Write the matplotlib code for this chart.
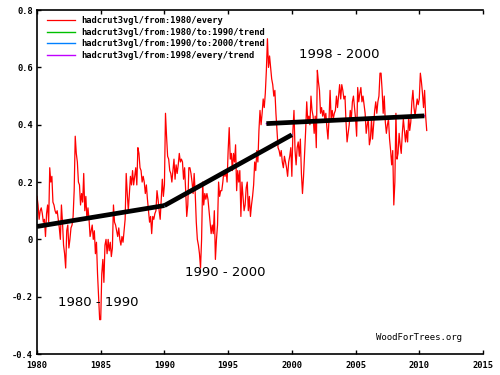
import numpy as np
import matplotlib
matplotlib.use("Agg")
import matplotlib.pyplot as plt


# monthly anomalies, one row per year from 1980
hadcrut_rows = [
	[0.15, 0.12, 0.07, 0.10, 0.11, 0.09, 0.06, 0.07, 0.01, 0.09, 0.12, 0.06],
	[0.25, 0.20, 0.22, 0.13, 0.12, 0.10, 0.09, 0.10, 0.07, 0.04, 0.00, 0.12],
	[0.06, -0.02, -0.05, -0.10, 0.03, 0.05, -0.03, 0.00, 0.04, 0.05, 0.08, 0.17],
	[0.36, 0.30, 0.27, 0.20, 0.19, 0.12, 0.16, 0.13, 0.23, 0.10, 0.15, 0.07],
	[0.11, 0.07, 0.01, 0.03, 0.05, 0.00, 0.03, -0.05, -0.01, -0.12, -0.20, -0.28],
	[-0.28, -0.12, -0.07, -0.15, -0.02, 0.00, -0.05, 0.00, -0.04, -0.01, -0.06, -0.03],
	[0.12, 0.06, 0.05, 0.03, 0.01, 0.04, 0.00, -0.02, 0.01, -0.01, 0.03, 0.07],
	[0.23, 0.16, 0.10, 0.16, 0.22, 0.19, 0.24, 0.19, 0.22, 0.25, 0.19, 0.32],
	[0.30, 0.25, 0.24, 0.20, 0.22, 0.20, 0.16, 0.19, 0.14, 0.10, 0.06, 0.08],
	[0.02, 0.08, 0.07, 0.09, 0.10, 0.17, 0.14, 0.10, 0.07, 0.14, 0.21, 0.15],
	[0.19, 0.44, 0.36, 0.29, 0.28, 0.24, 0.23, 0.20, 0.24, 0.28, 0.21, 0.26],
	[0.23, 0.26, 0.30, 0.27, 0.28, 0.27, 0.21, 0.25, 0.17, 0.08, 0.12, 0.25],
	[0.25, 0.23, 0.20, 0.16, 0.23, 0.16, 0.06, 0.00, -0.02, -0.05, -0.10, 0.00],
	[0.20, 0.12, 0.16, 0.14, 0.16, 0.14, 0.10, 0.06, 0.02, 0.05, 0.02, 0.10],
	[-0.07, 0.00, 0.05, 0.20, 0.15, 0.17, 0.17, 0.20, 0.24, 0.22, 0.24, 0.20],
	[0.31, 0.39, 0.28, 0.30, 0.24, 0.30, 0.27, 0.33, 0.17, 0.24, 0.20, 0.24],
	[0.08, 0.20, 0.15, 0.10, 0.12, 0.18, 0.20, 0.10, 0.15, 0.08, 0.12, 0.15],
	[0.19, 0.27, 0.24, 0.31, 0.27, 0.38, 0.45, 0.40, 0.44, 0.49, 0.46, 0.51],
	[0.59, 0.70, 0.60, 0.64, 0.60, 0.56, 0.54, 0.50, 0.52, 0.44, 0.38, 0.32],
	[0.31, 0.29, 0.31, 0.27, 0.25, 0.29, 0.27, 0.25, 0.22, 0.27, 0.29, 0.32],
	[0.22, 0.38, 0.45, 0.31, 0.26, 0.32, 0.34, 0.29, 0.35, 0.23, 0.16, 0.22],
	[0.30, 0.38, 0.48, 0.41, 0.43, 0.40, 0.50, 0.45, 0.43, 0.37, 0.43, 0.32],
	[0.59, 0.55, 0.52, 0.44, 0.46, 0.43, 0.45, 0.42, 0.44, 0.39, 0.35, 0.42],
	[0.52, 0.42, 0.45, 0.42, 0.44, 0.45, 0.50, 0.46, 0.50, 0.54, 0.49, 0.54],
	[0.52, 0.49, 0.50, 0.41, 0.34, 0.37, 0.40, 0.45, 0.42, 0.48, 0.50, 0.46],
	[0.42, 0.36, 0.53, 0.48, 0.51, 0.53, 0.48, 0.50, 0.47, 0.44, 0.37, 0.40],
	[0.42, 0.33, 0.35, 0.42, 0.35, 0.40, 0.45, 0.48, 0.44, 0.48, 0.50, 0.58],
	[0.58, 0.52, 0.44, 0.50, 0.41, 0.37, 0.40, 0.42, 0.35, 0.31, 0.26, 0.31],
	[0.12, 0.20, 0.44, 0.28, 0.30, 0.37, 0.33, 0.30, 0.37, 0.42, 0.38, 0.34],
	[0.38, 0.34, 0.43, 0.38, 0.41, 0.48, 0.52, 0.46, 0.43, 0.46, 0.49, 0.47],
	[0.49, 0.58, 0.55, 0.51, 0.46, 0.52, 0.43, 0.38],
]

start_year = 1980

# trend segments (end points)
trend_1980_x = [1980.0, 1990.0]
trend_1980_y = [0.045, 0.118]
trend_1990_x = [1990.0, 2000.0]
trend_1990_y = [0.118, 0.365]
trend_1998_x = [1998.0, 2010.4]
trend_1998_y = [0.404, 0.431]

legend_labels = [
	"hadcrut3vgl/from:1980/every",
	"hadcrut3vgl/from:1980/to:1990/trend",
	"hadcrut3vgl/from:1990/to:2000/trend",
	"hadcrut3vgl/from:1998/every/trend",
]

period_labels = [
	("1998 - 2000", 2003.7, 0.645),
	("1990 - 2000", 1994.8, -0.115),
	("1980 - 1990", 1984.8, -0.22),
]

x_ticks = [1980, 1985, 1990, 1995, 2000, 2005, 2010, 2015]
y_ticks = [-0.4, -0.2, 0, 0.2, 0.4, 0.6, 0.8]

values = np.concatenate([np.array(r) for r in hadcrut_rows])
months = start_year + np.arange(len(values)) / 12.0

mono = {"family": "DejaVu Sans Mono", "weight": "bold", "size": 6.3}

fig = plt.figure(figsize=(5, 3.75), dpi=100)
ax = fig.add_axes([0.074, 0.056, 0.892, 0.917])

ax.plot(months, values, color="red", linewidth=0.9, label=legend_labels[0])
ax.plot(trend_1980_x, trend_1980_y, color="#00c000", linewidth=1, label=legend_labels[1])
ax.plot(trend_1990_x, trend_1990_y, color="#0080ff", linewidth=1, label=legend_labels[2])
ax.plot(trend_1998_x, trend_1998_y, color="#c000ff", linewidth=1, label=legend_labels[3])

# thick black overlay on the trends
for tx, ty in [(trend_1980_x, trend_1980_y), (trend_1990_x, trend_1990_y), (trend_1998_x, trend_1998_y)]:
	ax.plot(tx, ty, color="black", linewidth=3.4, solid_capstyle="butt")

for text, x, y in period_labels:
	ax.text(x, y, text, fontsize=9.5, ha="center", va="center", family="DejaVu Sans")

ax.text(0.953, 0.049, "WoodForTrees.org", transform=ax.transAxes, ha="right", va="center",
	fontdict={"family": "DejaVu Sans Mono", "size": 6.5})

ax.set_xlim(1980, 2015)
ax.set_ylim(-0.4, 0.8)
ax.set_xticks(x_ticks)
ax.set_yticks(y_ticks)
ax.set_xticklabels([str(t) for t in x_ticks], fontdict=mono)
ax.set_yticklabels(["0" if t == 0 else "{:.1f}".format(t) for t in y_ticks], fontdict=mono)
ax.tick_params(direction="in", length=3, width=1, top=True, right=False)
ax.tick_params(axis="x", pad=5)
ax.tick_params(axis="y", pad=3)
ax.spines["right"].set_visible(False)
for s in ["left", "bottom", "top"]:
	ax.spines[s].set_linewidth(1.2)

ax.legend(loc="upper left", bbox_to_anchor=(0.012, 0.995), frameon=False, prop=mono,
	handlelength=3.2, handletextpad=0.8, labelspacing=0.3, borderaxespad=0.3, borderpad=0.2)

plt.savefig("out.png", dpi=100)
